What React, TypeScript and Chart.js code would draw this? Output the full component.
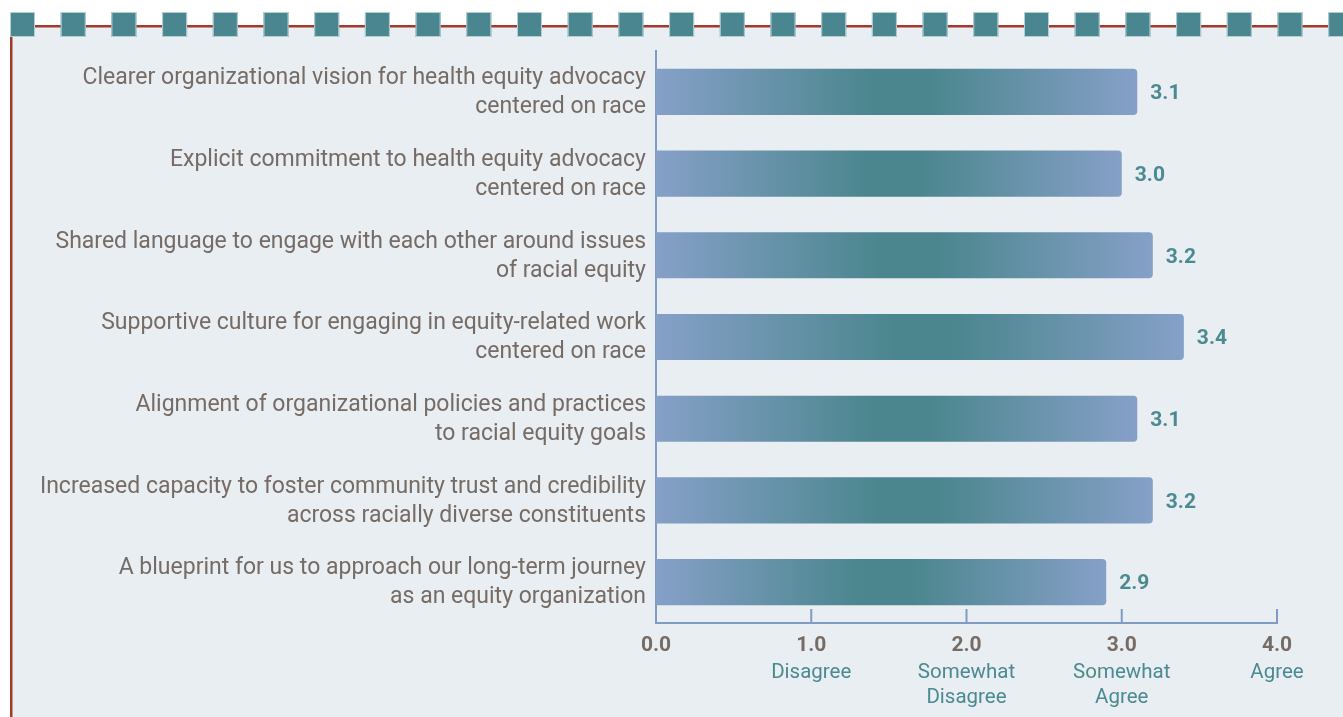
import React, { useEffect, useRef } from "react";
import { Chart, registerables } from "chart.js";

Chart.register(...registerables);

const categories: string[][] = [
  ["Clearer organizational vision for health equity advocacy", "centered on race"],
  ["Explicit commitment to health equity advocacy", "centered on race"],
  ["Shared language to engage with each other around issues", "of racial equity"],
  ["Supportive culture for engaging in equity-related work", "centered on race"],
  ["Alignment of organizational policies and practices", "to racial equity goals"],
  ["Increased capacity to foster community trust and credibility", "across racially diverse constituents"],
  ["A blueprint for us to approach our long-term journey", "as an equity organization"],
];
const values: number[] = [3.1, 3.0, 3.2, 3.4, 3.1, 3.2, 2.9];
const xTickValues: number[] = [0, 1, 2, 3, 4];
const xTickLabels: string[] = ["0.0", "1.0", "2.0", "3.0", "4.0"];
const xTickSubLabels: string[][] = [[], ["Disagree"], ["Somewhat", "Disagree"], ["Somewhat", "Agree"], ["Agree"]];

const FONT = "Roboto, 'Noto Sans', sans-serif";
const TEAL = "#4a8690";
const TEAL_TEXT = "#4b8a90";
const GRAY = "#766b65";
const AXIS = "#7f9cc4";
const RED = "#a3392b";
const PANEL = "#e8eef1";

const decorPlugin = {
  id: "decor",
  beforeDraw(chart: any) {
    const ctx = chart.ctx;
    const W = chart.width;
    const H = chart.height;
    ctx.save();
    ctx.fillStyle = "#ffffff";
    ctx.fillRect(0, 0, W, H);
    ctx.fillStyle = PANEL;
    ctx.fillRect(12, 27, W - 12, H - 27);
    ctx.fillStyle = RED;
    ctx.fillRect(10, 25, W - 10, 2.5);
    ctx.fillRect(10, 25, 2.5, H - 25);
    for (let i = 0; i < 27; i++) {
      const x = 10 + i * 50.7;
      ctx.fillStyle = TEAL;
      ctx.fillRect(x, 12, 25, 25);
      ctx.strokeStyle = "rgba(190,215,220,0.9)";
      ctx.lineWidth = 1;
      ctx.strokeRect(x + 0.5, 12.5, 24, 24);
    }
    ctx.restore();
  },
  afterDatasetsDraw(chart: any) {
    const ctx = chart.ctx;
    const xs = chart.scales.x;
    const area = chart.chartArea;
    ctx.save();
    // value labels
    const meta = chart.getDatasetMeta(0);
    ctx.font = `bold 21px ${FONT}`;
    ctx.fillStyle = TEAL_TEXT;
    ctx.textAlign = "left";
    ctx.textBaseline = "middle";
    meta.data.forEach((el: any, i: number) => {
      ctx.fillText(values[i].toFixed(1), el.x + 13, el.y + 2);
    });
    // upward tick marks
    ctx.strokeStyle = AXIS;
    ctx.lineWidth = 2;
    xTickValues.forEach((v) => {
      if (v === 0) return;
      const px = xs.getPixelForValue(v);
      ctx.beginPath();
      ctx.moveTo(px, area.bottom);
      ctx.lineTo(px, area.bottom - 14);
      ctx.stroke();
    });
    // x labels
    ctx.textAlign = "center";
    xTickValues.forEach((v, i) => {
      const px = xs.getPixelForValue(v);
      ctx.font = `bold 21px ${FONT}`;
      ctx.fillStyle = GRAY;
      ctx.fillText(xTickLabels[i], px, area.bottom + 23);
      ctx.font = `20.5px ${FONT}`;
      ctx.fillStyle = TEAL_TEXT;
      xTickSubLabels[i].forEach((s, j) => {
        ctx.fillText(s, px, area.bottom + 50 + j * 25);
      });
    });
    ctx.restore();
  },
};

export default function App() {
  const ref = useRef<HTMLCanvasElement | null>(null);
  useEffect(() => {
    if (!ref.current) return;
    const chart = new Chart(ref.current, {
      type: "bar",
      data: {
        labels: categories,
        datasets: [
          {
            data: values,
            backgroundColor: (c: any) => {
              const ch = c.chart;
              const area = ch.chartArea;
              if (!area || c.dataIndex === undefined) return TEAL;
              const x0 = ch.scales.x.getPixelForValue(0);
              const x1 = ch.scales.x.getPixelForValue(values[c.dataIndex]);
              const g = ch.ctx.createLinearGradient(x0, 0, x1, 0);
              g.addColorStop(0, "#86a0c8");
              g.addColorStop(0.45, "#4b868e");
              g.addColorStop(0.57, "#4b868e");
              g.addColorStop(1, "#86a0c8");
              return g;
            },
            borderRadius: 4,
            borderSkipped: "start",
            barPercentage: 0.565,
            categoryPercentage: 1,
          },
        ],
      },
      options: {
        indexAxis: "y",
        responsive: false,
        animation: false,
        devicePixelRatio: 1,
        layout: { padding: { left: 0, top: 51, right: 66, bottom: 0 } },
        plugins: { legend: { display: false }, tooltip: { enabled: false } },
        scales: {
          x: {
            min: 0,
            max: 4,
            grid: { display: false, drawTicks: false },
            border: { display: true, color: AXIS, width: 2 },
            ticks: { display: false, stepSize: 1 },
            afterFit: (s: any) => {
              s.height = 94;
            },
          },
          y: {
            grid: { display: false, drawTicks: false },
            border: { display: true, color: AXIS, width: 2 },
            ticks: {
              color: GRAY,
              padding: 10,
              labelOffset: 1,
              font: { family: FONT, size: 23, lineHeight: 1.26 },
            },
            afterFit: (s: any) => {
              s.width = 656;
            },
          },
        },
      },
      plugins: [decorPlugin],
    });
    return () => chart.destroy();
  }, []);
  return (
    <div style={{ position: "fixed", left: 0, top: 0, width: 1343, height: 717 }}>
      <canvas ref={ref} width={1343} height={717} style={{ display: "block" }} />
    </div>
  );
}
